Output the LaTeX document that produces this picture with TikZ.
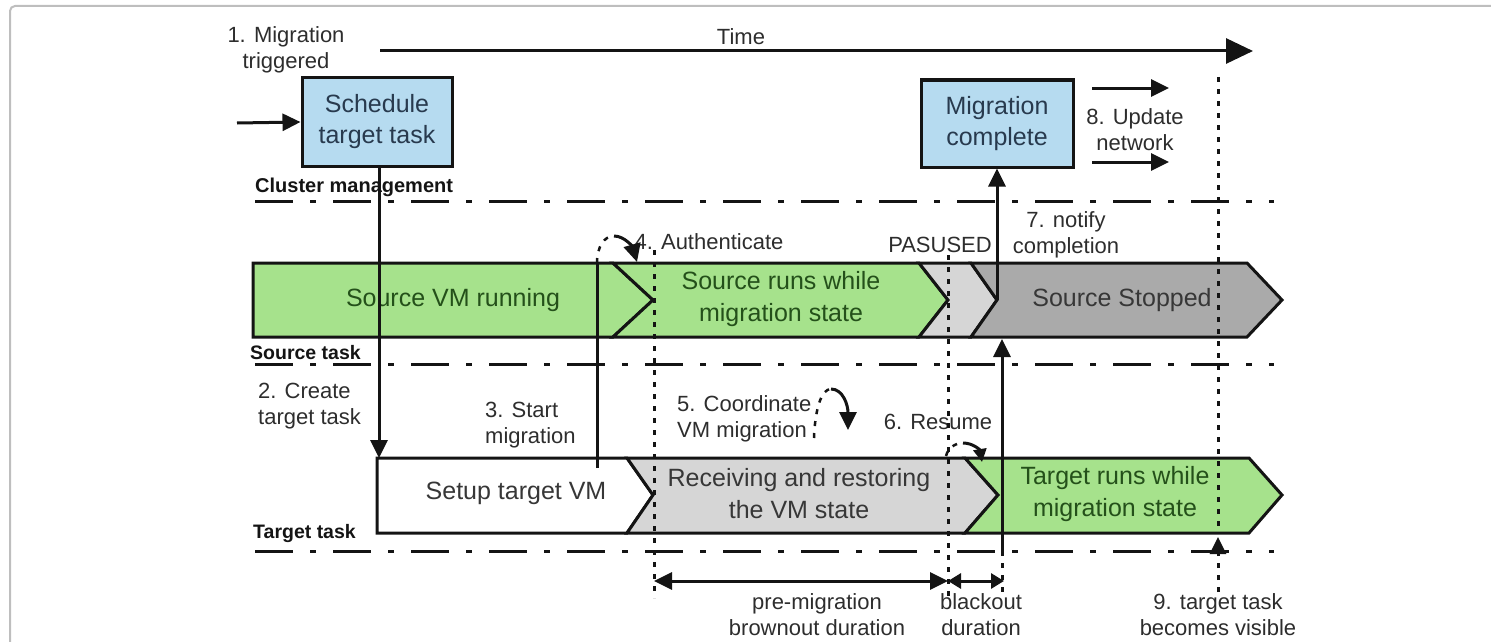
\documentclass[tikz,border=0pt]{standalone}
\usepackage{fontspec}
\setmainfont{Liberation Sans}
\usetikzlibrary{arrows.meta}

\definecolor{ink}{RGB}{20,20,20}
\definecolor{labelInk}{RGB}{45,45,45}
\definecolor{boxBlue}{RGB}{182,219,240}
\definecolor{boxInk}{RGB}{40,58,78}
\definecolor{barGreen}{RGB}{166,226,140}
\definecolor{greenInk}{RGB}{36,80,26}
\definecolor{paleGray}{RGB}{214,214,214}
\definecolor{darkGray}{RGB}{170,170,170}
\definecolor{grayInk}{RGB}{55,55,55}
\definecolor{frameGray}{RGB}{190,190,190}

\tikzset{
  ln/.style={draw=ink, line width=3pt},
  arr/.style={ln, -{Triangle[length=18pt,width=17pt]}},
  twoway/.style={ln, {Triangle[length=18pt,width=17pt]}-{Triangle[length=18pt,width=17pt]}},
  twowaysmall/.style={ln, {Triangle[length=13pt,width=15pt]}-{Triangle[length=13pt,width=15pt]}},
  lanesep/.style={draw=ink, line width=3pt, dash pattern=on 38pt off 17pt on 6pt off 17pt},
  dotln/.style={draw=ink, line width=3pt, dash pattern=on 5pt off 7pt},
  seg/.style={draw=ink, line width=3pt, line join=miter},
  lbl/.style={font=\fontsize{22}{26}\selectfont, text=labelInk, inner sep=0pt, align=center},
  lbll/.style={lbl, align=left},
  lane/.style={font=\bfseries\fontsize{19.5}{22}\selectfont, text=ink, inner sep=0pt, anchor=west},
  cmbox/.style={draw=ink, line width=3pt, fill=boxBlue, minimum width=150pt,
    minimum height=89pt, inner sep=0pt, align=center, text=boxInk,
    font=\fontsize{25}{31}\selectfont},
  bartext/.style={font=\fontsize{25}{32}\selectfont, inner sep=0pt, align=center},
}

\begin{document}
\begin{tikzpicture}[x=1pt,y=-1pt]
\useasboundingbox (0,0) rectangle (1491,642);

% outer frame
\draw[frameGray, line width=2pt, rounded corners=5pt] (10,642) -- (10,6) -- (1491,6);

% time axis
\coordinate (tStart) at (380,51);
\coordinate (tEnd) at (1253,51);
\draw[ln, -{Triangle[length=27pt,width=25pt]}] (tStart) -- (tEnd);
\node[lbl] (timeLbl) at (741,37) {Time};

% cluster management lane
\node[lbl] (trig) at (286,50) {1. Migration\\triggered};
\node[cmbox] (sched) at (377,122) {Schedule\\target task};
\coordinate (inStart) at (237,123);
\draw[arr] (inStart) -- (sched.west);

\node[cmbox, minimum width=152pt, minimum height=87pt] (mc) at (997,123.5) {Migration\\complete};
\coordinate (upA0) at (1092,88);
\coordinate (upA1) at (1169,88);
\coordinate (upB0) at (1092,162);
\coordinate (upB1) at (1169,162);
\draw[arr] (upA0) -- (upA1);
\draw[arr] (upB0) -- (upB1);
\node[lbl] (updLbl) at (1135,130) {8. Update\\network};

\node[lane, font=\bfseries\fontsize{20}{22}\selectfont] (laneCM) at (255,187) {Cluster management};
\coordinate (sepA0) at (255,201); \coordinate (sepA1) at (1274,201);
\draw[lanesep] (sepA0) -- (sepA1);

% source task bar
\path[seg, fill=barGreen] (253,263) -- (613,263) -- (653,300) -- (613,337) -- (253,337) -- cycle;
\path[seg, fill=barGreen] (613,263) -- (919,263) -- (948,300) -- (919,337) -- (613,337) -- (653,300) -- cycle;
\path[seg, fill=paleGray] (919,263) -- (971,263) -- (997,300) -- (971,337) -- (919,337) -- (948,300) -- cycle;
\path[seg, fill=darkGray] (971,263) -- (1247,263) -- (1282,300) -- (1247,337) -- (971,337) -- (997,300) -- cycle;
\node[bartext, text=greenInk] (srcRun) at (453,300) {Source VM running};
\node[bartext, text=greenInk] (srcMig) at (781,299) {Source runs while\\migration state};
\node[bartext, text=grayInk] (srcStop) at (1122,300) {Source Stopped};
\coordinate (pTip) at (997,300);

\node[lane] (laneSrc) at (250,353) {Source task};
\coordinate (sepB0) at (255,364); \coordinate (sepB1) at (1274,364);
\draw[lanesep] (sepB0) -- (sepB1);

% target task bar
\path[seg, fill=white] (377,458) -- (627,458) -- (653,495) -- (627,533) -- (377,533) -- cycle;
\path[seg, fill=paleGray] (627,458) -- (965,458) -- (998,495) -- (965,533) -- (627,533) -- (653,495) -- cycle;
\path[seg, fill=barGreen] (965,458) -- (1249,458) -- (1282,495) -- (1249,533) -- (965,533) -- (998,495) -- cycle;
\node[bartext, text=grayInk] (setup) at (516,493) {Setup target VM};
\node[bartext, text=grayInk] (recv) at (799,494) {Receiving and restoring\\the VM state};
\node[bartext, text=greenInk] (tgtRun) at (1115,494) {Target runs while\\migration state};

\node[lane] (laneTgt) at (253,533) {Target task};
\coordinate (sepC0) at (255,551); \coordinate (sepC1) at (1274,551);
\draw[lanesep] (sepC0) -- (sepC1);

% step labels
\node[lbll, anchor=west] (create) at (258,406) {2. Create\\target task};
\node[lbll, anchor=west] (start) at (485,425) {3. Start\\migration};
\node[lbl] (auth) at (709,242) {4. Authenticate};
\node[lbll, anchor=west] (coord) at (677,419) {5. Coordinate\\VM migration};
\node[lbl] (resume) at (938,422) {6. Resume};
\node[lbl] (pause) at (940,245) {PASUSED};
\node[lbl] (notify) at (1066,235) {7. notify\\completion};

% time markers
\coordinate (bStart0) at (654,250); \coordinate (bStart1) at (654,598);
\coordinate (bPause0) at (948,255); \coordinate (bPause1) at (948,596);
\coordinate (vis0) at (1218,77); \coordinate (vis1) at (1218,532);
\draw[dotln] (bStart0) -- (bStart1);
\draw[dotln] (bPause0) -- (bPause1);
\draw[dotln] (vis0) -- (vis1);

% 2: create target task
\coordinate (tgtTop) at (379,458);
\draw[arr] (sched.south -| tgtTop) -- (tgtTop);

% 3/4: start migration and authenticate
\coordinate (stBase) at (597,468);
\coordinate (stTop) at (597,263);
\coordinate (auPeak) at (614,236);
\coordinate (auTip) at (637,262);
\draw[ln] (stBase) -- (stTop);
\draw[dotln, line width=2.5pt] (stTop) .. controls (597,247) and (604,236) .. (auPeak);
\draw[arr] (auPeak) .. controls (625,236) and (633,248) .. (auTip);

% 5: coordinate VM migration
\coordinate (coA) at (814,438);
\coordinate (coPeak) at (831,389);
\coordinate (coTip) at (848,430);
\draw[dotln, line width=2.5pt] (coA) .. controls (815,410) and (821,389) .. (coPeak);
\draw[arr] (coPeak) .. controls (843,389) and (848,405) .. (coTip);

% 6: resume
\coordinate (reA) at (946,456);
\coordinate (rePeak) at (963,443);
\coordinate (reTip) at (982,462);
\draw[dotln, line width=2.5pt] (reA) .. controls (948,448) and (955,443) .. (rePeak);
\draw[ln, -{Triangle[length=13pt,width=13pt]}] (rePeak) .. controls (973,443) and (980,450) .. (reTip);

% 7: notify completion
\draw[arr] (pTip) -- (mc.south);

% target resumes, source stops
\coordinate (rsBase) at (1002,551);
\coordinate (rsTop) at (1002,339);
\coordinate (rsLow) at (1002,597);
\draw[arr] (rsBase) -- (rsTop);
\draw[dotln] (rsBase) -- (rsLow);

% 9: target task becomes visible
\coordinate (visLow) at (1218,592);
\coordinate (visTip) at (1218,537);
\draw[dotln, -{Triangle[length=17pt,width=16pt]}] (visLow) -- (visTip);

% durations
\coordinate (brA) at (654,581); \coordinate (brB) at (948,581); \coordinate (blB) at (1004,581);
\draw[twoway] (brA) -- (brB);
\draw[twowaysmall] (brB) -- (blB);
\node[lbl] (brLbl) at (817,615) {pre-migration\\brownout duration};
\node[lbl] (blLbl) at (981,615) {blackout\\duration};
\node[lbl] (visLbl) at (1218,615) {9. target task\\becomes visible};
\end{tikzpicture}
\end{document}
